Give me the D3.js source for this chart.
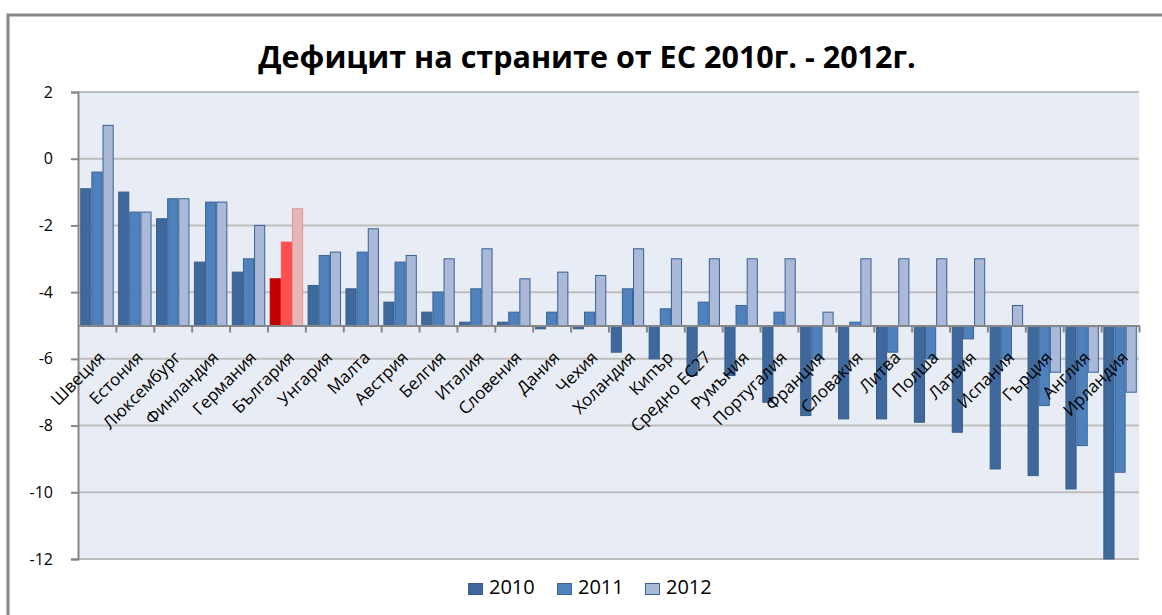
<!doctype html>
<html lang="bg">
<head>
  <meta charset="utf-8">
  <title>Дефицит</title>
  <script src="https://d3js.org/d3.v7.min.js"></script>
  <style>
  body { margin: 0; background: #fff; }
  text { font-family: "Open Sans", sans-serif; fill: #000; }
  </style>
</head>
<body>
<div id="chart"></div>
<script>
  // data
  var countries = ["Швеция", "Естония", "Люксембург", "Финландия", "Германия", "България",
    "Унгария", "Малта", "Австрия", "Белгия", "Италия", "Словения", "Дания", "Чехия",
    "Холандия", "Кипър", "Средно ЕС27", "Румъния", "Португалия", "Франция", "Словакия",
    "Литва", "Полша", "Латвия", "Испания", "Гърция", "Англия", "Ирландия"]
  var years = ["2010", "2011", "2012"]
  var d2010 = [-0.9, -1.0, -1.8, -3.1, -3.4, -3.6, -3.8, -3.9, -4.3, -4.6, -4.9, -4.9, -5.1, -5.1,
    -5.8, -6.0, -6.5, -6.5, -7.3, -7.7, -7.8, -7.8, -7.9, -8.2, -9.3, -9.5, -9.9, -12]
  var d2011 = [-0.4, -1.6, -1.2, -1.3, -3.0, -2.5, -2.9, -2.8, -3.1, -4.0, -3.9, -4.6, -4.6, -4.6,
    -3.9, -4.5, -4.3, -4.4, -4.6, -6.0, -4.9, -5.8, -6.0, -5.4, -6.0, -7.4, -8.6, -9.4]
  var d2012 = [1.0, -1.6, -1.2, -1.3, -2.0, -1.5, -2.8, -2.1, -2.9, -3.0, -2.7, -3.6, -3.4, -3.5,
    -2.7, -3.0, -3.0, -3.0, -3.0, -4.6, -3.0, -3.0, -3.0, -3.0, -4.4, -6.4, -6.4, -7.0]
  var yTicks = [2, 0, -2, -4, -6, -8, -10, -12]
  var baseValue = -5   // bars grow from here

  var fills = {"2010": "#3F699C", "2011": "#4F81BD", "2012": "#AAB9D7"}
  var strokes = {"2010": "#375E8D", "2011": "#3A6596", "2012": "#38609A"}
  var bgFills = {"2010": "#C00000", "2011": "#FF5050", "2012": "#E6B6B6"}
  var bgStrokes = {"2010": "#C00000", "2011": "#FF5050", "2012": "#D99694"}

  var W = 1162, H = 615
  var plot = {left: 78, right: 1139, top: 92, bottom: 559}

  var svg = d3.select("#chart").append("svg")
      .attr("width", W).attr("height", H)

  // frame (only top and left visible)
  svg.append("path")
      .attr("d", "M8,615 L8,15 L1162,15")
      .attr("fill", "none").attr("stroke", "#878787").attr("stroke-width", 3)

  svg.append("text")
      .attr("x", 587).attr("y", 68)
      .attr("text-anchor", "middle")
      .style("font-size", "30.5px").style("font-weight", "bold")
      .text("Дефицит на страните от ЕС 2010г. - 2012г.")

  var x = d3.scaleBand().domain(countries).range([plot.left, plot.right]).padding(0)
  var xs = d3.scaleBand().domain(years).range([0, x.bandwidth()]).paddingInner(0).paddingOuter(0.2)
  var y = d3.scaleLinear().domain([-12, 2]).range([plot.bottom, plot.top])

  svg.append("rect")
      .attr("x", plot.left).attr("y", plot.top)
      .attr("width", plot.right - plot.left).attr("height", plot.bottom - plot.top)
      .attr("fill", "#E8ECF4")

  // gridlines
  svg.append("g").selectAll("line")
      .data(yTicks)
    .enter().append("line")
      .attr("x1", plot.left).attr("x2", plot.right)
      .attr("y1", function(d) { return y(d); }).attr("y2", function(d) { return y(d); })
      .attr("stroke", "#BEBEBE").attr("stroke-width", 2)

  // y axis
  var yAxis = svg.append("g")
      .attr("transform", "translate(" + plot.left + ",0)")
      .call(d3.axisLeft(y).tickValues(yTicks).tickSize(7).tickPadding(18)
        .tickFormat(function(d) { return d; }))
  yAxis.select(".domain").attr("stroke", "#878787").attr("stroke-width", 2)
  yAxis.selectAll(".tick line").attr("stroke", "#878787").attr("stroke-width", 2)
  yAxis.selectAll("text").attr("x", -25).style("font-size", "16px").style("font-family", "Open Sans")

  // bars
  var series = years.map(function(yr, i) {
    var vals = [d2010, d2011, d2012][i]
    return countries.map(function(c, j) { return {country: c, year: yr, value: vals[j]} })
  })
  var groups = svg.append("g").selectAll("g")
      .data(series)
    .enter().append("g")
  groups.selectAll("rect")
      .data(function(d) { return d; })
    .enter().append("rect")
      .attr("x", function(d) { return x(d.country) + xs(d.year) + 0.5; })
      .attr("width", xs.bandwidth() - 1)
      .attr("y", function(d) { return Math.min(y(d.value), y(baseValue)); })
      .attr("height", function(d) { return Math.abs(y(d.value) - y(baseValue)); })
      .attr("fill", function(d) { return d.country == "България" ? bgFills[d.year] : fills[d.year]; })
      .attr("stroke", function(d) { return d.country == "България" ? bgStrokes[d.year] : strokes[d.year]; })
      .attr("stroke-width", 1)

  // category axis at -5
  var xIdx = d3.scaleLinear().domain([0, countries.length]).range([plot.left, plot.right])
  var xAxis = svg.append("g")
      .attr("transform", "translate(0," + y(baseValue) + ")")
      .call(d3.axisBottom(xIdx).tickValues(d3.range(1, countries.length + 1))
        .tickSize(7).tickSizeOuter(0).tickFormat(""))
  xAxis.select(".domain").attr("stroke", "#878787").attr("stroke-width", 2)
  xAxis.selectAll(".tick line").attr("stroke", "#878787").attr("stroke-width", 2)

  svg.append("g").selectAll("text")
      .data(countries)
    .enter().append("text")
      .attr("transform", function(d) {
        return "translate(" + (x(d) + x.bandwidth() / 2 + 9) + "," + (y(baseValue) + 33) + ") rotate(-45)";
      })
      .attr("text-anchor", "end")
      .style("font-size", "17px")
      .text(function(d) { return d; })

  // legend
  var legendX = [468, 557, 645]
  var legend = svg.append("g").selectAll("g")
      .data(years)
    .enter().append("g")
      .attr("transform", function(d, i) { return "translate(" + legendX[i] + ",582)"; })
  legend.append("rect")
      .attr("x", 0.5).attr("y", 1.5).attr("width", 14).attr("height", 11)
      .attr("fill", function(d) { return fills[d]; })
      .attr("stroke", function(d) { return strokes[d]; })
  legend.append("text")
      .attr("x", 21).attr("y", 12)
      .style("font-size", "20px")
      .text(function(d) { return d; })
</script>
</body>
</html>
